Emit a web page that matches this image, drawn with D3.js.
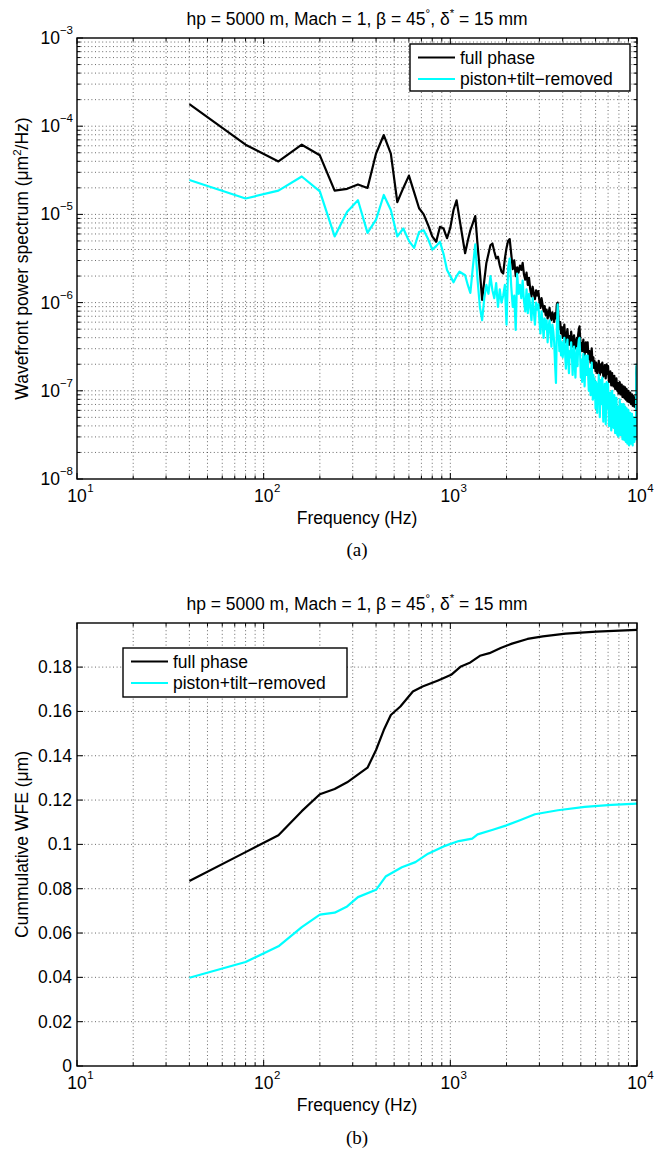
<!DOCTYPE html>
<html><head><meta charset="utf-8">
<script src="https://cdn.jsdelivr.net/npm/d3@7"></script>
<style>body{margin:0;background:#fff}</style>
</head><body><svg id="c" width="661" height="1155"></svg>
<script>
// ---------- DATA ----------
// PSD sampled every 40 Hz from 40 Hz to 10000 Hz; values stored as log10(PSD in um^2/Hz)
const psdStep = 40;
const psdFullExp = [
-3.75,-4.21,-4.40,-4.21,-4.33,-4.73,-4.71,-4.66,-4.70,-4.31,
-4.10,-4.31,-4.86,-4.70,-4.56,-4.75,-4.93,-5.00,-5.12,-5.25,
-5.31,-5.14,-5.16,-5.27,-5.15,-4.95,-4.84,-5.05,-5.25,-5.44,
-5.30,-5.18,-5.10,-5.02,-5.35,-5.65,-5.97,-5.75,-5.55,-5.45,
-5.35,-5.33,-5.42,-5.50,-5.48,-5.58,-5.65,-5.67,-5.50,-5.38,
-5.30,-5.28,-5.45,-5.62,-5.52,-5.70,-5.60,-5.66,-5.58,-5.63,
-5.55,-5.68,-5.74,-5.66,-5.80,-5.72,-5.85,-5.93,-5.82,-5.90,
-5.96,-5.86,-5.92,-5.87,-5.98,-6.06,-5.95,-6.02,-6.10,-6.04,
-6.14,-6.08,-6.18,-6.12,-6.06,-6.16,-6.20,-6.11,-6.15,-6.22,
-6.12,-6.18,-6.02,-6.00,-6.20,-6.30,-6.22,-6.35,-6.28,-6.40,
-6.33,-6.25,-6.38,-6.45,-6.36,-6.30,-6.42,-6.48,-6.38,-6.44,
-6.33,-6.41,-6.50,-6.43,-6.37,-6.47,-6.52,-6.44,-6.40,-6.49,
-6.36,-6.30,-6.27,-6.40,-6.52,-6.46,-6.55,-6.48,-6.42,-6.53,
-6.60,-6.50,-6.45,-6.56,-6.48,-6.45,-6.58,-6.64,-6.55,-6.61,
-6.68,-6.58,-6.52,-6.63,-6.70,-6.62,-6.74,-6.66,-6.72,-6.78,
-6.68,-6.74,-6.80,-6.70,-6.76,-6.66,-6.73,-6.82,-6.75,-6.70,
-6.79,-6.72,-6.68,-6.77,-6.84,-6.74,-6.80,-6.71,-6.78,-6.86,
-6.76,-6.70,-6.81,-6.75,-6.72,-6.83,-6.90,-6.80,-6.86,-6.78,
-6.88,-6.94,-6.84,-6.80,-6.90,-6.85,-6.95,-6.88,-6.83,-6.92,
-6.98,-6.89,-6.95,-6.86,-6.93,-7.00,-6.91,-6.97,-7.03,-6.94,
-6.99,-6.90,-6.96,-7.04,-6.97,-7.02,-6.93,-7.00,-7.07,-6.98,
-7.04,-6.95,-7.01,-7.08,-7.00,-6.96,-7.05,-7.10,-7.02,-6.98,
-7.06,-7.12,-7.03,-7.08,-7.00,-7.07,-7.13,-7.05,-7.10,-7.02,
-7.09,-7.15,-7.06,-7.12,-7.04,-7.10,-7.17,-7.08,-7.14,-7.06,
-7.12,-7.18,-7.10,-7.15,-7.08,-7.14,-7.20,-6.80,-6.72,-7.05
];
const psdTiltExp = [
-4.61,-4.82,-4.73,-4.57,-4.74,-5.25,-4.97,-4.84,-5.21,-5.06,
-4.78,-4.95,-5.25,-5.16,-5.30,-5.38,-5.20,-5.18,-5.28,-5.40,
-5.36,-5.31,-5.45,-5.63,-5.70,-5.77,-5.70,-5.65,-5.67,-5.69,
-5.80,-5.89,-5.60,-5.34,-5.75,-6.05,-6.20,-5.95,-5.80,-5.90,
-5.70,-5.86,-5.95,-5.78,-6.05,-5.85,-6.00,-5.92,-5.80,-6.25,
-5.60,-5.50,-5.82,-6.05,-5.92,-6.31,-5.67,-5.90,-5.80,-5.95,
-5.75,-5.98,-6.10,-5.85,-6.12,-5.90,-6.05,-6.20,-5.95,-6.10,
-6.25,-6.00,-6.08,-6.02,-6.20,-6.35,-6.10,-6.22,-6.40,-6.18,
-6.30,-6.20,-6.45,-6.28,-6.20,-6.35,-6.50,-6.25,-6.32,-6.45,
-6.70,-6.91,-6.30,-6.02,-6.35,-6.55,-6.38,-6.60,-6.45,-6.62,
-6.50,-6.40,-6.58,-6.75,-6.52,-6.42,-6.65,-6.80,-6.55,-6.62,
-6.45,-6.60,-6.82,-6.58,-6.50,-6.70,-6.85,-6.62,-6.52,-6.72,
-6.50,-6.42,-6.40,-6.60,-6.85,-6.65,-6.90,-6.68,-6.58,-6.78,
-6.95,-6.70,-6.60,-6.82,-6.66,-6.60,-6.85,-7.00,-6.75,-6.85,
-7.05,-6.78,-6.68,-6.90,-7.10,-6.82,-7.08,-6.86,-7.00,-7.20,
-6.90,-7.05,-7.25,-6.92,-7.10,-6.82,-7.00,-7.30,-7.02,-6.88,
-7.15,-6.95,-6.85,-7.10,-7.35,-7.00,-7.20,-6.92,-7.12,-7.38,
-7.05,-6.90,-7.20,-7.00,-6.92,-7.22,-7.40,-7.08,-7.28,-7.02,
-7.30,-7.45,-7.12,-7.00,-7.30,-7.10,-7.42,-7.15,-7.05,-7.32,
-7.48,-7.15,-7.35,-7.08,-7.28,-7.50,-7.18,-7.38,-7.52,-7.20,
-7.35,-7.10,-7.30,-7.50,-7.25,-7.42,-7.15,-7.35,-7.55,-7.22,
-7.40,-7.15,-7.32,-7.56,-7.28,-7.18,-7.42,-7.58,-7.30,-7.20,
-7.40,-7.60,-7.28,-7.45,-7.22,-7.40,-7.62,-7.32,-7.50,-7.25,
-7.42,-7.60,-7.30,-7.52,-7.26,-7.45,-7.62,-7.35,-7.55,-7.30,
-7.48,-7.58,-7.38,-7.52,-7.32,-7.46,-7.55,-6.85,-6.70,-7.20
];
// Cumulative WFE (um) read at these frequencies (Hz)
const cumFullFreq = [40,80,120,160,200,240,280,360,400,440,480,540,630,710,860,1010,1140,1280,1440,1620,1860,2140,2590,3130,4150,6050,10000];
const cumFull     = [0.0835,0.0965,0.1041,0.1150,0.1226,0.1250,0.1280,0.1346,0.1426,0.1516,0.1584,0.1622,0.1690,0.1712,0.1740,0.1765,0.1803,0.1821,0.1851,0.1863,0.1886,0.1906,0.1927,0.1939,0.1951,0.1960,0.1968];
const cumTiltFreq = [40,80,120,160,200,240,280,320,400,450,550,650,760,920,1110,1310,1400,1690,2000,2360,2840,3770,5250,7300,10000];
const cumTilt     = [0.0398,0.0469,0.0540,0.0627,0.0683,0.0692,0.0720,0.0762,0.0795,0.0855,0.0897,0.0920,0.0958,0.0991,0.1015,0.1026,0.1045,0.1066,0.1086,0.1109,0.1136,0.1154,0.1169,0.1178,0.1184];

const xTickExps = [1,2,3,4];
const psdTickExps = [-8,-7,-6,-5,-4,-3];
const wfeTicks = [0,0.02,0.04,0.06,0.08,0.1,0.12,0.14,0.16,0.18];
const seriesNames = ["full phase","piston+tilt\u2212removed"];
const seriesColors = ["#000000","#00ffff"];

// ---------- LAYOUT ----------
const FONT = '"Liberation Sans", Arial, Helvetica, sans-serif';
const FS = 17.5, SUP = 11.5;
const L = 77, R = 637;
const A = {t:38, b:479};
const B = {t:623, b:1066};

const svg = d3.select("#c");
svg.append("rect").attr("width",661).attr("height",1155).attr("fill","#fff");

const x = d3.scaleLog().domain([10,1e4]).range([L,R]);
const yA = d3.scaleLog().domain([1e-8,1e-3]).range([A.b,A.t]);
const yB = d3.scaleLinear().domain([0,0.1999]).range([B.b,B.t]);

const psdFull = psdFullExp.map((e,i)=>({f:(i+1)*psdStep, v:Math.pow(10,e)}));
const psdTilt = psdTiltExp.map((e,i)=>({f:(i+1)*psdStep, v:Math.pow(10,e)}));
const wFull = cumFullFreq.map((f,i)=>({f, v:cumFull[i]}));
const wTilt = cumTiltFreq.map((f,i)=>({f, v:cumTilt[i]}));

const xTicks = x.ticks();
const isMajorX = t => Math.abs(Math.log10(t) - Math.round(Math.log10(t))) < 1e-9;

function panel(g, box, y, yTicks, isMajorY, series, id){
  const grid = g.append("g").attr("stroke","#444").attr("stroke-width",0.8).attr("stroke-dasharray","1,2.6");
  xTicks.filter(t=>t>10 && t<1e4).forEach(t=>{
    grid.append("line").attr("x1",x(t)).attr("x2",x(t)).attr("y1",box.t).attr("y2",box.b);
  });
  yTicks.forEach(t=>{
    const yy = y(t);
    if (yy <= box.t+0.5 || yy >= box.b-0.5) return;
    grid.append("line").attr("x1",L).attr("x2",R).attr("y1",yy).attr("y2",yy);
  });
  svg.append("clipPath").attr("id",id).append("rect").attr("x",L).attr("y",box.t).attr("width",R-L).attr("height",box.b-box.t);
  const line = d3.line().x(d=>x(d.f)).y(d=>y(d.v));
  series.forEach((s,i)=>{
    g.append("path").attr("d",line(s)).attr("fill","none").attr("stroke",seriesColors[i])
     .attr("stroke-width",2.2).attr("stroke-linejoin","round").attr("clip-path",`url(#${id})`);
  });
  const tk = g.append("g").attr("stroke","#000").attr("stroke-width",1);
  xTicks.forEach(t=>{
    const len = isMajorX(t)?6:3.5, xx = x(t);
    tk.append("line").attr("x1",xx).attr("x2",xx).attr("y1",box.b).attr("y2",box.b-len);
    tk.append("line").attr("x1",xx).attr("x2",xx).attr("y1",box.t).attr("y2",box.t+len);
  });
  yTicks.forEach(t=>{
    const len = isMajorY(t)?6:3.5, yy = y(t);
    tk.append("line").attr("x1",L).attr("x2",L+len).attr("y1",yy).attr("y2",yy);
    tk.append("line").attr("x1",R).attr("x2",R-len).attr("y1",yy).attr("y2",yy);
  });
  g.append("rect").attr("x",L).attr("y",box.t).attr("width",R-L).attr("height",box.b-box.t)
   .attr("fill","none").attr("stroke","#000").attr("stroke-width",1.4);
  xTickExps.forEach(e=>{
    const xx = x(Math.pow(10,e));
    const t = g.append("text").attr("x",xx).attr("y",box.b+23).attr("text-anchor","middle")
      .attr("font-family",FONT).attr("font-size",FS).text("10");
    const w = t.node().getComputedTextLength();
    g.append("text").attr("x",xx+w/2+0.5).attr("y",box.b+13).attr("font-family",FONT)
      .attr("font-size",SUP).text(String(e));
  });
  g.append("text").attr("x",(L+R)/2).attr("y",box.b+44.5).attr("text-anchor","middle")
   .attr("font-family",FONT).attr("font-size",FS).text("Frequency (Hz)");
  const tt = g.append("text").attr("x",(L+R)/2).attr("y",box.t-13).attr("text-anchor","middle")
   .attr("font-family",FONT).attr("font-size",FS);
  tt.append("tspan").text("hp = 5000 m, Mach = 1, \u03b2 = 45");
  tt.append("tspan").attr("dy",-8).attr("font-size",SUP).text("\u00b0");
  tt.append("tspan").attr("dy",8).text(", \u03b4");
  tt.append("tspan").attr("dy",-8).attr("font-size",SUP).text("*");
  tt.append("tspan").attr("dy",8).text(" = 15 mm");
}

function legend(g, bx, by, bw, bh){
  g.append("rect").attr("x",bx).attr("y",by).attr("width",bw).attr("height",bh)
   .attr("fill","#fff").attr("stroke","#000").attr("stroke-width",1.4);
  seriesNames.forEach((n,i)=>{
    const yy = by + 13.5 + i*21.5;
    g.append("line").attr("x1",bx+8).attr("x2",bx+45).attr("y1",yy).attr("y2",yy)
     .attr("stroke",seriesColors[i]).attr("stroke-width",2.2);
    g.append("text").attr("x",bx+50).attr("y",yy+6).attr("font-family",FONT).attr("font-size",FS).text(n);
  });
}

// ---------- PANEL A ----------
const gA = svg.append("g");
const psdTicks = yA.ticks();
panel(gA, A, yA, psdTicks, t=>Math.abs(Math.log10(t)-Math.round(Math.log10(t)))<1e-9, [psdFull, psdTilt], "clipA");
psdTickExps.forEach(e=>{
  const yy = yA(Math.pow(10,e));
  const t = gA.append("text").attr("x",L-4).attr("y",yy+6).attr("text-anchor","end")
    .attr("font-family",FONT).attr("font-size",FS);
  t.append("tspan").text("10");
  t.append("tspan").attr("dy",-10).attr("font-size",SUP).text(String(e).replace("-","\u2212"));
});
const yl = gA.append("text").attr("transform",`translate(28,${(A.t+A.b)/2}) rotate(-90)`)
  .attr("text-anchor","middle").attr("font-family",FONT).attr("font-size",FS);
yl.append("tspan").text("Wavefront power spectrum (\u03bcm");
yl.append("tspan").attr("dy",-7).attr("font-size",SUP).text("2");
yl.append("tspan").attr("dy",7).text("/Hz)");
legend(gA, 410, 44, 220, 47);
gA.append("text").attr("x",(L+R)/2).attr("y",556).attr("text-anchor","middle")
  .attr("font-family",'"Liberation Serif","DejaVu Serif",serif').attr("font-size",19).text("(a)");

// ---------- PANEL B ----------
const gB = svg.append("g");
panel(gB, B, yB, wfeTicks, ()=>true, [wFull, wTilt], "clipB");
const fmt = d3.format("~g");
wfeTicks.forEach(t=>{
  gB.append("text").attr("x",L-5).attr("y",yB(t)+6).attr("text-anchor","end")
    .attr("font-family",FONT).attr("font-size",FS).text(fmt(t));
});
gB.append("text").attr("transform",`translate(28,${(B.t+B.b)/2}) rotate(-90)`)
  .attr("text-anchor","middle").attr("font-family",FONT).attr("font-size",FS).text("Cummulative WFE (\u03bcm)");
legend(gB, 123, 648, 224, 49);
gB.append("text").attr("x",(L+R)/2).attr("y",1144).attr("text-anchor","middle")
  .attr("font-family",'"Liberation Serif","DejaVu Serif",serif').attr("font-size",19).text("(b)");
</script>
</body></html>
